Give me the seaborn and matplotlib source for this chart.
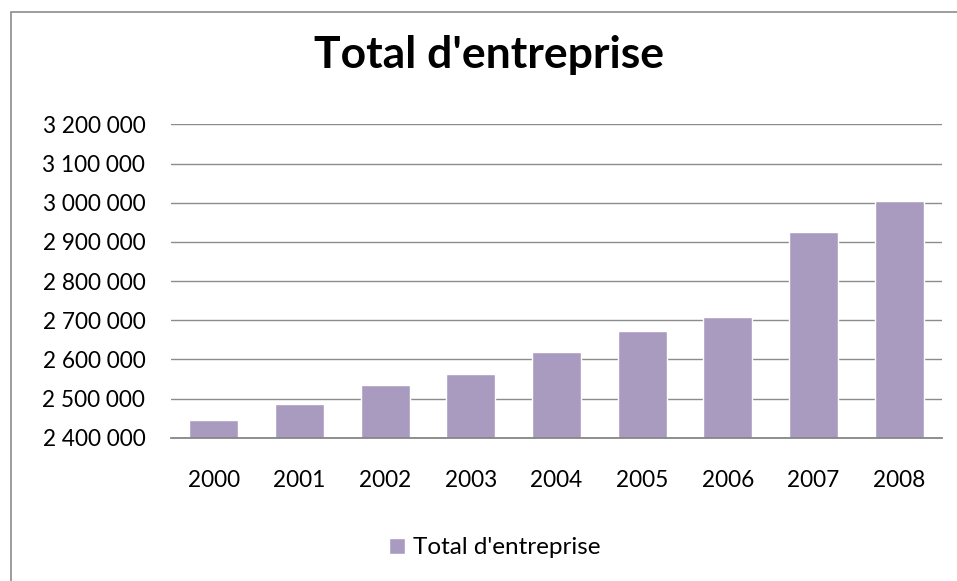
import matplotlib
matplotlib.use('Agg')
import matplotlib.pyplot as plt
import matplotlib.ticker as mticker
import pandas as pd
import seaborn as sns

# Données
annees = ['2000', '2001', '2002', '2003', '2004', '2005', '2006', '2007', '2008']
total_entreprises = [2444000, 2485000, 2535000, 2563000, 2618000,
                     2672000, 2707000, 2925000, 3004000]
serie = "Total d'entreprise"

df = pd.DataFrame({'annee': annees, 'total': total_entreprises})

sns.set_theme(style='white')
plt.rcParams['font.family'] = ['Lato', 'DejaVu Sans']

fig = plt.figure(figsize=(9.57, 5.81), dpi=100)
ax = fig.add_axes([0.1787, 0.2466, 0.8056, 0.5394])

sns.barplot(data=df, x='annee', y='total', color='#A99BBF', width=0.57,
            saturation=1, label=serie, ax=ax)

ax.set_ylim(2400000, 3200000)
ax.yaxis.set_major_locator(mticker.MultipleLocator(100000))
ax.yaxis.set_major_formatter(
    mticker.FuncFormatter(lambda v, p: f'{int(v):,}'.replace(',', ' ')))
ax.grid(axis='y', color='#8C8C8C', linewidth=1)
ax.set_axisbelow(True)
for s in ['top', 'right', 'left']:
    ax.spines[s].set_visible(False)
ax.spines['bottom'].set_color('#868686')
ax.spines['bottom'].set_linewidth(1.3)
ax.tick_params(axis='both', length=0, labelsize=16.3, colors='black')
ax.tick_params(axis='y', pad=18.5)
ax.tick_params(axis='x', pad=23)
ax.set_xlabel('')
ax.set_ylabel('')

# titre
fig.text(0.511, 1 - 68 / 581, serie, ha='center', va='baseline',
         fontsize=32, fontweight='bold', color='black')

ax.legend(loc='center', bbox_to_anchor=(0.517, 0.057), bbox_transform=fig.transFigure,
          frameon=False, fontsize=17.5, handlelength=0.65, handleheight=0.65,
          handletextpad=0.35, labelcolor='black')

# cadre gris du graphique (coupé à droite et en bas)
cadre = plt.Rectangle((10.5 / 957, -0.05), 1.2, 1.05 - 12.5 / 581,
                      transform=fig.transFigure, fill=False,
                      edgecolor='#8C8C8C', linewidth=1.2)
fig.patches.append(cadre)

fig.savefig('out.png', dpi=100)
